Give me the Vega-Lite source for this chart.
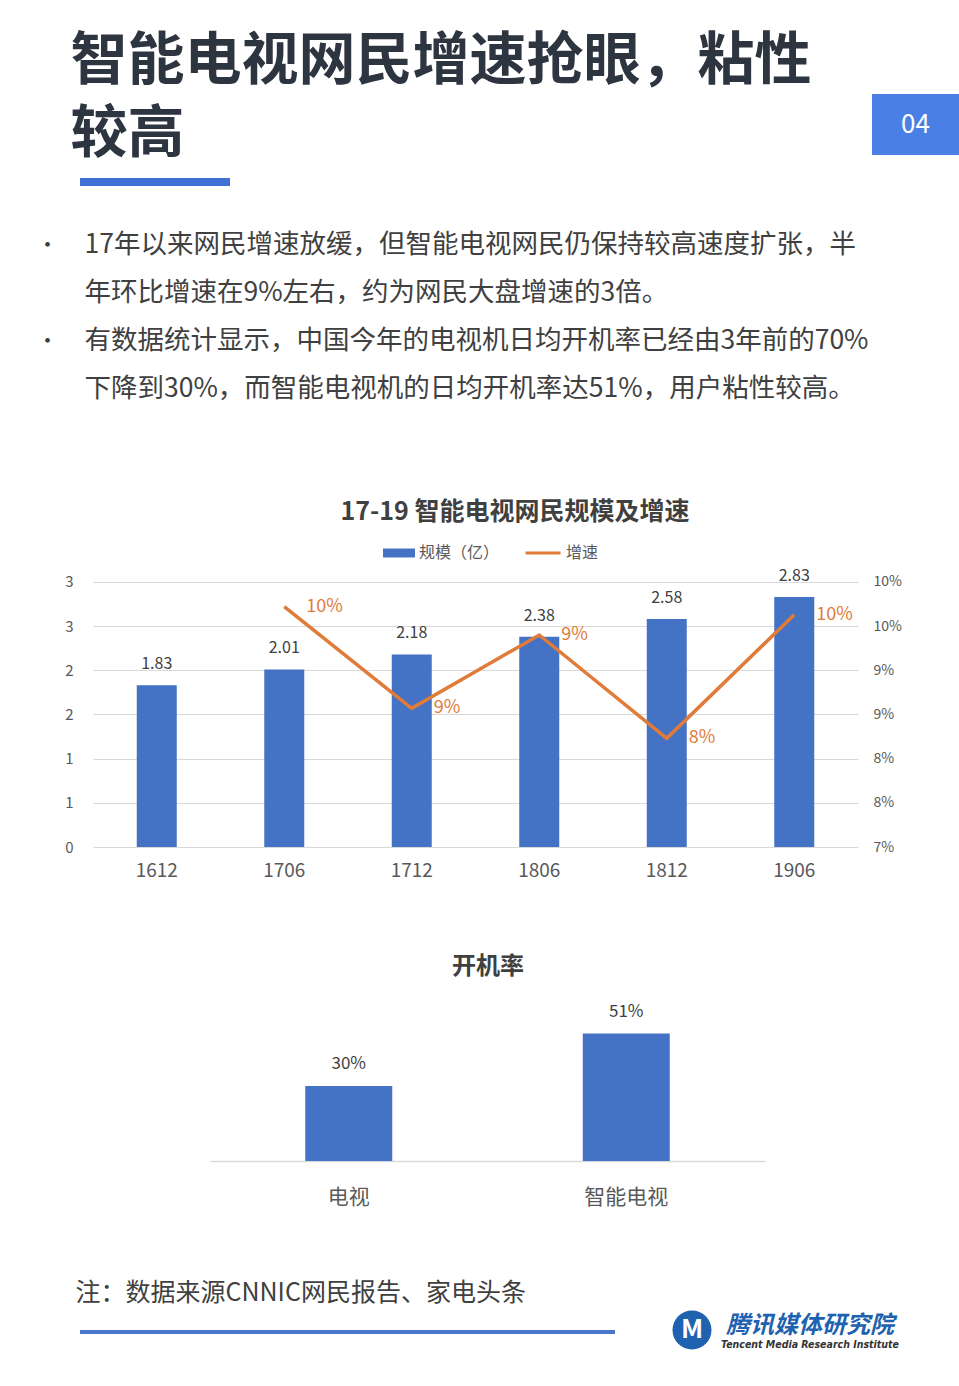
{
  "$schema": "https://vega.github.io/schema/vega-lite/v6.json",
  "padding": 0,
  "background": "white",
  "spacing": 0,
  "config": {"view": {"stroke": null}, "font": "Noto Sans CJK SC"},
  "vconcat": [
    {"bounds": "flush", "spacing": 0, "hconcat": [
      {"width": 70, "height": 197, "data": {"values": []}, "mark": "point"},
      {"width": 1, "height": 124, "data": {"values": [{}]}, "mark": {"type": "text", "text": ["智能电视网民增速抢眼，粘性", "较高"], "align": "left", "baseline": "middle", "fontSize": 57, "fontWeight": "bold", "lineHeight": 73, "color": "#2d3540"}},
      {"width": 9, "height": 197, "data": {"values": []}, "mark": "point"},
      {"width": 150, "height": 197, "data": {"values": [{}]}, "mark": {"type": "point", "shape": "stroke", "size": 22500, "strokeWidth": 8, "color": "#4170d4", "opacity": 1, "yOffset": 83.5}},
      {"width": 642, "height": 197, "data": {"values": []}, "mark": "point"},
      {"width": 87, "height": 197, "data": {"values": [{}]}, "layer": [
        {"mark": {"type": "point", "shape": "M-1.4262,-1L1.4262,-1L1.4262,1L-1.4262,1Z", "size": 3721, "filled": true, "strokeWidth": 0, "color": "#4a7fe6", "opacity": 1, "yOffset": 26}},
        {"mark": {"type": "text", "text": "04", "fontSize": 26, "color": "white", "baseline": "middle", "yOffset": 26}}
      ]}
    ]},
    {"bounds": "flush", "spacing": 0, "hconcat": [
      {"width": 47, "height": 294, "data": {"values": []}, "mark": "point"},
      {"width": 1, "height": 94, "data": {"values": [{}]}, "mark": {"type": "text", "text": ["•", "•"], "align": "center", "baseline": "middle", "fontSize": 22, "lineHeight": 96, "color": "#404040"}},
      {"width": 36, "height": 294, "data": {"values": []}, "mark": "point"},
      {"width": 1, "height": 94, "data": {"values": [{}]}, "mark": {"type": "text", "text": ["17年以来网民增速放缓，但智能电视网民仍保持较高速度扩张，半", "年环比增速在9%左右，约为网民大盘增速的3倍。", "有数据统计显示，中国今年的电视机日均开机率已经由3年前的70%", "下降到30%，而智能电视机的日均开机率达51%，用户粘性较高。"], "align": "left", "baseline": "middle", "fontSize": 26.5, "lineHeight": 48, "color": "#404040"}}
    ]},
    {"bounds": "flush", "spacing": 0, "hconcat": [
      {"width": 315, "height": 40, "data": {"values": []}, "mark": "point"},
      {"width": 400, "height": 40, "data": {"values": [{}]}, "mark": {"type": "text", "text": "17-19 智能电视网民规模及增速", "baseline": "middle", "fontSize": 25, "fontWeight": "bold", "color": "#404040"}}
    ]},
    {"bounds": "flush", "spacing": 0, "hconcat": [
      {"width": 93, "height": 315, "data": {"values": []}, "mark": "point"},
      {
        "width": 765, "height": 315,
        "data": {"values": [
          {"period": "1612", "scale": 1.83, "growth": null},
          {"period": "1706", "scale": 2.01, "growth": 0.0972},
          {"period": "1712", "scale": 2.18, "growth": 0.0857},
          {"period": "1806", "scale": 2.38, "growth": 0.0940},
          {"period": "1812", "scale": 2.58, "growth": 0.0823},
          {"period": "1906", "scale": 2.83, "growth": 0.0963}
        ]},
        "layer": [
          {"layer": [
            {"mark": {"type": "bar", "size": 40},
             "encoding": {
               "x": {"field": "period", "type": "ordinal", "axis": {"title": null, "labelAngle": 0, "domain": false, "ticks": false, "labelFontSize": 19, "labelPadding": 14, "labelColor": "#595959"}},
               "y": {"field": "scale", "type": "quantitative", "scale": {"domain": [0, 3.566], "nice": false, "zero": false}, "axis": {"title": null, "values": [0, 0.5, 1, 1.5, 2, 2.5, 3], "format": ".0f", "grid": true, "gridColor": "#d9d9d9", "domain": false, "ticks": false, "labelPadding": 20, "labelFontSize": 15, "labelColor": "#595959"}},
               "fill": {"datum": "规模（亿）", "type": "nominal", "scale": {"domain": ["规模（亿）"], "range": ["#4472c4"]}, "legend": {"orient": "none", "legendX": 383, "legendY": 537, "title": null, "symbolType": "M-1,-0.28L1,-0.28L1,0.28L-1,0.28Z", "symbolSize": 1024, "symbolStrokeWidth": 0, "labelFontSize": 16, "labelColor": "#595959", "labelOffset": 4}}
             }},
            {"mark": {"type": "text", "baseline": "middle", "dy": -21, "fontSize": 16, "color": "#404040"},
             "encoding": {
               "x": {"field": "period", "type": "ordinal"},
               "y": {"field": "scale", "type": "quantitative"},
               "text": {"field": "scale", "type": "quantitative", "format": ".2f"}
             }}
          ]},
          {"transform": [{"filter": "datum.growth != null"}],
           "layer": [
            {"mark": {"type": "line", "strokeWidth": 3.5},
             "encoding": {
               "x": {"field": "period", "type": "ordinal"},
               "y": {"field": "growth", "type": "quantitative", "scale": {"domain": [0.07, 0.10566], "nice": false, "zero": false}, "axis": {"orient": "right", "title": null, "values": [0.07, 0.075, 0.08, 0.085, 0.09, 0.095, 0.10], "labelExpr": "ceil(round(datum.value*200)/2) + '%'", "grid": false, "domain": false, "ticks": false, "labelPadding": 15, "labelFontSize": 14, "labelColor": "#595959"}},
               "stroke": {"datum": "增速", "type": "nominal", "scale": {"domain": ["增速"], "range": ["#e07b39"]}, "legend": {"orient": "none", "legendX": 524, "legendY": 534, "title": null, "symbolType": "stroke", "symbolSize": 1225, "symbolStrokeWidth": 3, "labelFontSize": 16, "labelColor": "#595959", "labelOffset": 4}}
             }},
            {"mark": {"type": "text", "align": "left", "baseline": "middle", "dx": 22, "fontSize": 18, "color": "#e07b39"},
             "encoding": {
               "x": {"field": "period", "type": "ordinal"},
               "y": {"field": "growth", "type": "quantitative"},
               "text": {"field": "growth", "type": "quantitative", "format": ".0%"}
             }}
          ]}
        ],
        "resolve": {"scale": {"y": "independent"}}
      }
    ]},
    {"width": 959, "height": 73, "data": {"values": []}, "mark": "point"},
    {"bounds": "flush", "spacing": 0, "hconcat": [
      {"width": 388, "height": 28, "data": {"values": []}, "mark": "point"},
      {"width": 200, "height": 28, "data": {"values": [{}]}, "mark": {"type": "text", "text": "开机率", "baseline": "middle", "fontSize": 24, "fontWeight": "bold", "color": "#404040"}}
    ]},
    {"bounds": "flush", "spacing": 0, "hconcat": [
      {"width": 210, "height": 180, "data": {"values": []}, "mark": "point"},
      {
        "width": 555, "height": 180,
        "data": {"values": [
          {"type": "电视", "rate": 0.30},
          {"type": "智能电视", "rate": 0.51}
        ]},
        "encoding": {
          "x": {"field": "type", "type": "nominal", "sort": null, "axis": {"title": null, "labelAngle": 0, "ticks": false, "domainColor": "#d9d9d9", "domainWidth": 1.5, "labelFontSize": 21, "labelPadding": 25, "labelColor": "#595959"}},
          "y": {"field": "rate", "type": "quantitative", "scale": {"domain": [0, 0.72], "nice": false}, "axis": null}
        },
        "layer": [
          {"mark": {"type": "bar", "size": 87, "color": "#4472c4"}},
          {"mark": {"type": "text", "baseline": "middle", "dy": -22, "fontSize": 17, "color": "#404040"},
           "encoding": {"text": {"field": "rate", "type": "quantitative", "format": ".0%"}}}
        ]
      }
    ]},
    {"width": 959, "height": 72, "data": {"values": []}, "mark": "point"},
    {"bounds": "flush", "spacing": 0, "hconcat": [
      {"width": 75, "height": 28, "data": {"values": []}, "mark": "point"},
      {"width": 1, "height": 28, "data": {"values": [{}]}, "mark": {"type": "text", "text": "注：数据来源CNNIC网民报告、家电头条", "align": "left", "baseline": "middle", "fontSize": 25, "color": "#404040"}}
    ]},
    {"bounds": "flush", "spacing": 0, "hconcat": [
      {"width": 80, "height": 50, "data": {"values": []}, "mark": "point"},
      {"width": 535, "height": 50, "data": {"values": [{}]}, "mark": {"type": "point", "shape": "stroke", "size": 286225, "strokeWidth": 4, "color": "#4a77c9", "opacity": 1}},
      {"width": 54, "height": 50, "data": {"values": []}, "mark": "point"},
      {"width": 46, "height": 46, "data": {"values": [{}]}, "layer": [
        {"mark": {"type": "point", "filled": true, "size": 1520, "color": "#1f62b0", "opacity": 1}},
        {"mark": {"type": "text", "text": "M", "fontSize": 26, "fontWeight": "bold", "color": "white", "baseline": "middle"}}
      ]},
      {"width": 7, "height": 50, "data": {"values": []}, "mark": "point"},
      {"width": 176, "height": 37, "data": {"values": [{}]}, "layer": [
        {"mark": {"type": "text", "text": "腾讯媒体研究院", "baseline": "middle", "fontSize": 24, "fontWeight": "bold", "fontStyle": "italic", "color": "#1f62b0"}},
        {"mark": {"type": "text", "text": "Tencent Media Research Institute", "baseline": "middle", "yOffset": 19, "fontSize": 10.5, "fontWeight": "bold", "fontStyle": "italic", "color": "#333333", "font": "DejaVu Sans Condensed"}}
      ]}
    ]}
  ]
}
